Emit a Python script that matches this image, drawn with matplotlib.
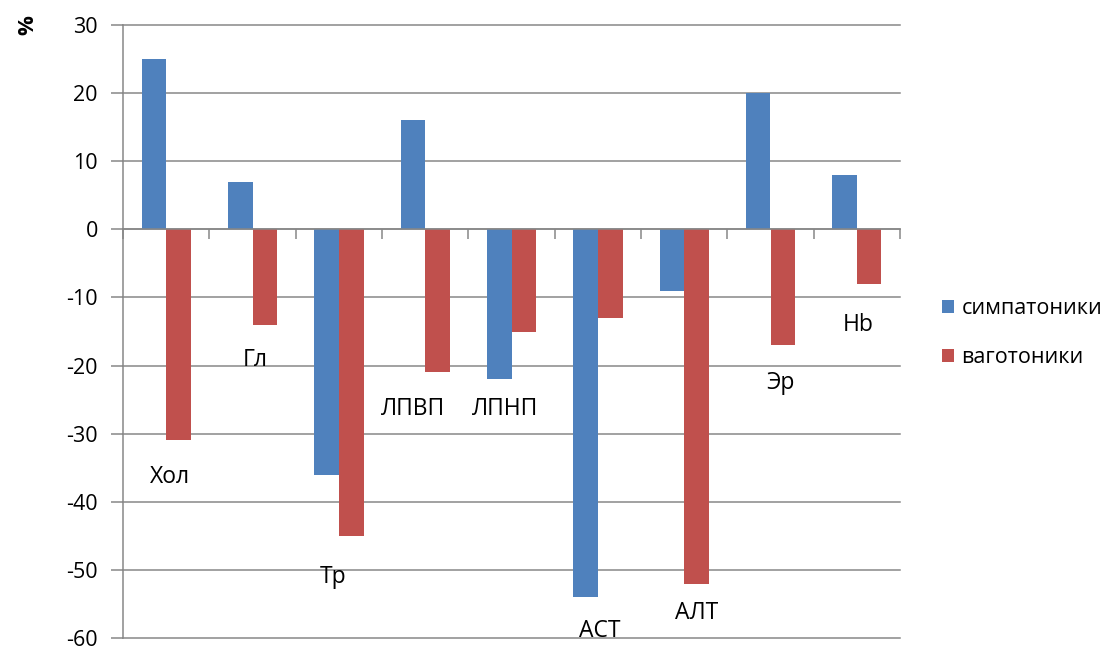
import matplotlib
matplotlib.use("Agg")
import matplotlib.pyplot as plt
import numpy as np

categories = ["Хол", "Гл", "Тр", "ЛПВП", "ЛПНП", "АСТ", "АЛТ", "Эр", "Hb"]
sympathotonics = [25, 7, -36, 16, -22, -54, -9, 20, 8]
vagotonics = [-31, -14, -45, -21, -15, -13, -52, -17, -8]
series_names = ["симпатоники", "ваготоники"]
yticks = [30, 20, 10, 0, -10, -20, -30, -40, -50, -60]

# label placement (layout)
label_dx = [0.05, 0.03, -0.07, -0.14, -0.07, 0.02, 0.15, 0.12, 0.01]
label_y = [-36.4, -19.2, -51.1, -26.4, -26.4, -58.9, -56.4, -22.6, -14.1]

plt.rcParams['font.family'] = ['Open Sans', 'DejaVu Sans']
fig = plt.figure(figsize=(11.16, 6.46), dpi=100)
ax = fig.add_axes([123/1116, 1 - 638/646, (900-123)/1116, (638-25)/646])

x = np.arange(len(categories))
w = 1/3.5
ax.bar(x - w/2, sympathotonics, w, color="#4F81BD", label=series_names[0], zorder=3)
ax.bar(x + w/2, vagotonics, w, color="#C0504D", label=series_names[1], zorder=3)

ax.set_xlim(-0.5, len(categories) - 0.5)
ax.set_ylim(-60, 30)
ax.set_yticks(yticks)
ax.set_yticklabels([str(v) for v in yticks], fontsize=15.5)
for v in yticks:
    ax.axhline(v, color="#878787", lw=1.1, zorder=1, clip_on=False)

ax.spines['top'].set_visible(False)
ax.spines['right'].set_visible(False)
ax.spines['left'].set_color("#878787")
ax.spines['left'].set_linewidth(1.1)
ax.spines['bottom'].set_position(('data', 0))
ax.spines['bottom'].set_color("#878787")
ax.spines['bottom'].set_linewidth(1.1)
ax.spines['bottom'].set_zorder(4)
ax.set_xticks(np.arange(len(categories) + 1) - 0.5)
ax.set_xticklabels([])
ax.tick_params(axis='x', direction='out', length=7, width=1.1, color="#878787")
ax.tick_params(axis='y', direction='out', length=9, width=1.1, color="#878787", pad=9)

for i, name in enumerate(categories):
    ax.text(i + label_dx[i], label_y[i], name, ha='center', va='center', fontsize=16.5, zorder=5)

fig.text(28/1116, 1 - 25/646, "%", rotation=90, ha='center', va='center', fontsize=16, fontweight='bold')

leg = ax.legend(loc='center left', bbox_to_anchor=(1.029, 0.497), frameon=False, fontsize=15.5,
                handlelength=0.55, handleheight=0.55, handletextpad=0.35, labelspacing=1.3)

fig.savefig("out.png", dpi=100)
